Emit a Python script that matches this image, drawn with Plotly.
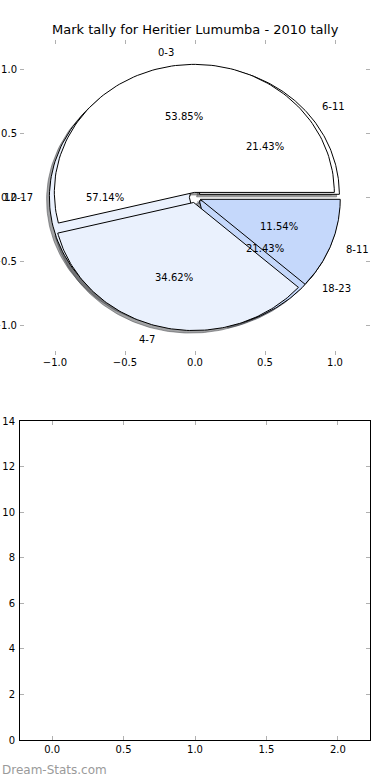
import numpy as np
import plotly.graph_objects as go

title_text = "Mark tally for Heritier Lumumba - 2010 tally"
watermark = "Dream-Stats.com"

# pie drawn first (underneath)
pie_b_labels = ["6-11", "12-17", "18-23"]
pie_b_values = [3, 8, 3]
# pie drawn second (on top)
pie_a_labels = ["0-3", "4-7", "8-11"]
pie_a_values = [14, 9, 3]

slice_colors = ["#ffffff", "#eaf1fd", "#c5d8fb"]

bar_categories = [0, 1, 2]
bar_values = [0, 0, 0]

pie_ticks = [-1.0, -0.5, 0.0, 0.5, 1.0]
bar_xticks = [0.0, 0.5, 1.0, 1.5, 2.0]
bar_yticks = [0, 2, 4, 6, 8, 10, 12, 14]

EXPLODE = 0.04
SHADOW = -0.02
FONT = "DejaVu Sans"

W, H = 390, 780


def fx(p):
    return p / W


def fy(p):
    return 1 - p / H


def wedge_geom(values):
    vals = np.asarray(values, dtype=float)
    frac = vals / vals.sum()
    t2 = np.cumsum(frac) * 360.0
    t1 = t2 - frac * 360.0
    out = []
    for a, b, f in zip(t1, t2, frac):
        mid = np.deg2rad((a + b) / 2)
        cx, cy = EXPLODE * np.cos(mid), EXPLODE * np.sin(mid)
        ang = np.deg2rad(np.linspace(a, b, 120))
        xs = np.concatenate([[cx], cx + np.cos(ang), [cx]])
        ys = np.concatenate([[cy], cy + np.sin(ang), [cy]])
        out.append(dict(xs=xs, ys=ys, cx=cx, cy=cy, mid=mid, frac=f))
    return out


def shade(hexcol):
    h = hexcol.lstrip("#")
    r, g, b = (int(h[i:i + 2], 16) for i in (0, 2, 4))
    return "rgba(%d,%d,%d,0.5)" % (r * 0.3, g * 0.3, b * 0.3)


geo_b = wedge_geom(pie_b_values)
geo_a = wedge_geom(pie_a_values)

fig = go.Figure()

# shadows (all below all wedges)
for geo in (geo_b, geo_a):
    for i, w in enumerate(geo):
        fig.add_trace(go.Scatter(
            x=w["xs"] + SHADOW, y=w["ys"] + SHADOW, mode="lines", fill="toself",
            fillcolor=shade(slice_colors[i]), line=dict(color=shade(slice_colors[i]), width=1),
            hoverinfo="skip", xaxis="x", yaxis="y"))

# wedges
for geo, labels in ((geo_b, pie_b_labels), (geo_a, pie_a_labels)):
    for i, w in enumerate(geo):
        fig.add_trace(go.Scatter(
            x=w["xs"], y=w["ys"], mode="lines", fill="toself",
            fillcolor=slice_colors[i], line=dict(color="black", width=1),
            name=labels[i], hoverinfo="name", xaxis="x", yaxis="y"))

annotations = []
for geo, labels in ((geo_b, pie_b_labels), (geo_a, pie_a_labels)):
    for i, w in enumerate(geo):
        lx = w["cx"] + 1.1 * np.cos(w["mid"])
        ly = w["cy"] + 1.1 * np.sin(w["mid"])
        annotations.append(dict(
            x=lx, y=ly, xref="x", yref="y", text=labels[i], showarrow=False,
            xanchor="left" if lx > 0 else "right", yanchor="middle",
            font=dict(size=10, color="black", family=FONT)))
        px_ = w["cx"] + 0.6 * np.cos(w["mid"])
        py_ = w["cy"] + 0.6 * np.sin(w["mid"])
        annotations.append(dict(
            x=px_, y=py_, xref="x", yref="y", text="%1.2f%%" % (w["frac"] * 100),
            showarrow=False, xanchor="center", yanchor="middle",
            font=dict(size=10, color="black", family=FONT)))

# empty bar chart
fig.add_trace(go.Bar(x=bar_categories, y=bar_values, width=0.45,
                     marker=dict(color="#c5d8fb", line=dict(width=0)),
                     xaxis="x2", yaxis="y2", hoverinfo="skip"))

annotations.append(dict(x=fx(195), y=fy(30), xref="paper", yref="paper", text=title_text,
                        showarrow=False, xanchor="center", yanchor="middle",
                        font=dict(size=13, color="black", family=FONT)))
annotations.append(dict(x=fx(0), y=fy(770), xref="paper", yref="paper", text=watermark,
                        showarrow=False, xanchor="left", yanchor="middle",
                        font=dict(size=12, color="#9a9a9a", family=FONT)))

xdom = [fx(20), fx(370)]
tick_common = dict(ticks="inside", ticklen=4, tickwidth=1, tickcolor="#b0b0b0",
                   showgrid=False, zeroline=False, mirror="ticks", automargin=False,
                   tickfont=dict(size=10, color="black", family=FONT))

fig.update_layout(
    width=W, height=H, autosize=False,
    margin=dict(l=0, r=0, t=0, b=0, autoexpand=False),
    paper_bgcolor="white", plot_bgcolor="rgba(0,0,0,0)",
    showlegend=False,
    font=dict(family=FONT, size=10, color="black"),
    xaxis=dict(domain=xdom, anchor="y", range=[-1.25, 1.25], showline=False,
               tickvals=pie_ticks, tickformat=".1f", **tick_common),
    yaxis=dict(domain=[fy(355), fy(40)], anchor="x", range=[-1.23, 1.23], showline=False,
               tickvals=pie_ticks, tickformat=".1f", ticklabelstandoff=2, **tick_common),
    xaxis2=dict(domain=xdom, anchor="y2", range=[-0.225, 2.225], showline=True, linecolor="black",
                linewidth=1, tickvals=bar_xticks, tickformat=".1f", **tick_common),
    yaxis2=dict(domain=[fy(740), fy(421)], anchor="x2", range=[0, 14], showline=True,
                linecolor="black", linewidth=1, tickvals=bar_yticks, ticklabelstandoff=2,
                **tick_common),
    annotations=annotations,
)

fig.write_html("out.html", config={"displayModeBar": False},
               post_script="document.body.style.margin='0';document.body.style.overflow='hidden';")
